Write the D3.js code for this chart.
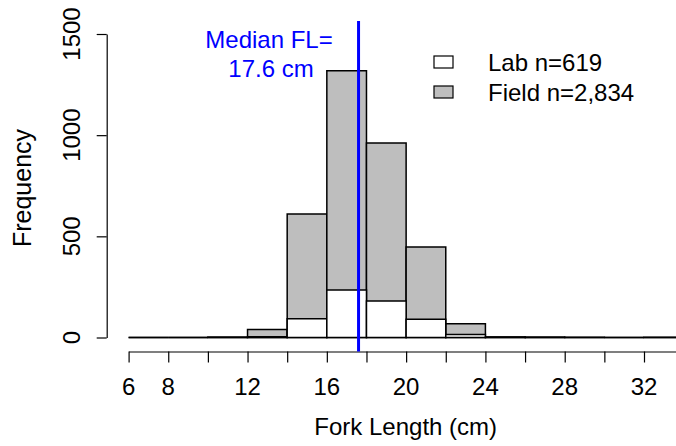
<!DOCTYPE html>
<html>
<head>
<meta charset="utf-8">
<script src="https://cdn.jsdelivr.net/npm/d3@7"></script>
<style>
  body { margin: 0; background: #fff; }
  svg { display: block; font-family: "Liberation Sans", Arial, Helvetica, sans-serif; }
</style>
</head>
<body>
<div id="chart"></div>
<script>
// bin lower edges (2 cm bins)
const binStarts = [6, 8, 10, 12, 14, 16, 18, 20, 22, 24, 26, 28, 30, 32, 34, 36];
const binWidth = 2;
// counts per bin
const labCounts = [0, 0, 0, 4, 93, 235, 180, 90, 15, 2, 0, 0, 0, 0, 0, 0];
const fieldCounts = [0, 0, 2, 35, 517, 1083, 781, 357, 53, 1, 3, 1, 0, 1, 0, 0];
const yTicks = [0, 500, 1000, 1500];
const xTicks = [6, 8, 10, 12, 14, 16, 18, 20, 22, 24, 26, 28, 30, 32, 34, 36, 38];
const xLabels = [6, 8, 12, 16, 20, 24, 28, 32];
const medianFL = 17.6;
const legendItems = [
  { label: "Lab n=619", fill: "#ffffff" },
  { label: "Field n=2,834", fill: "#bebebe" }
];

const width = 676, height = 446;
const fontSize = 24;

const svg = d3.select("#chart").append("svg")
  .attr("width", width)
  .attr("height", height);

const x = d3.scaleLinear().domain([6, 32]).range([128.6, 644]);
const y = d3.scaleLinear().domain([0, 1500]).range([337.5, 34]);

const bins = binStarts.map((b, i) => ({
  x0: b, x1: b + binWidth, lab: labCounts[i], total: labCounts[i] + fieldCounts[i]
}));

// rect as path so zero-height bins still show their outline
const barPath = (x0, x1, v) =>
  `M${x(x0)},${y(0)}H${x(x1)}V${y(v)}H${x(x0)}Z`;

const bars = svg.append("g");
bars.selectAll(".total")
  .data(bins)
  .join("path")
  .attr("class", "total")
  .attr("d", d => barPath(d.x0, d.x1, d.total))
  .attr("fill", "#bebebe")
  .attr("stroke", "#000")
  .attr("stroke-width", 1.5);

bars.selectAll(".lab")
  .data(bins)
  .join("path")
  .attr("class", "lab")
  .attr("d", d => barPath(d.x0, d.x1, d.lab))
  .attr("fill", "#ffffff")
  .attr("stroke", "#000")
  .attr("stroke-width", 1.5);

// y axis
const yAxis = svg.append("g")
  .attr("transform", "translate(106.7,0)")
  .call(d3.axisLeft(y).tickValues(yTicks).tickSize(10).tickSizeOuter(0).tickFormat(""));
yAxis.selectAll("path, line").attr("stroke", "#000").attr("stroke-width", 1.2);

svg.append("g").selectAll("text")
  .data(yTicks)
  .join("text")
  .attr("transform", d => `translate(80,${y(d)}) rotate(-90)`)
  .attr("text-anchor", "middle")
  .attr("font-size", fontSize)
  .text(d => d);

// x axis, runs past the right edge
const xAxisScale = x.copy().domain([6, 38]).range([x(6), x(38)]);
const xAxis = svg.append("g")
  .attr("transform", "translate(0,351.5)")
  .call(d3.axisBottom(xAxisScale).tickValues(xTicks).tickSize(11).tickSizeOuter(0).tickFormat(""));
xAxis.selectAll("path, line").attr("stroke", "#000").attr("stroke-width", 1.2);

svg.append("g").selectAll("text")
  .data(xLabels)
  .join("text")
  .attr("x", d => x(d))
  .attr("y", 395)
  .attr("text-anchor", "middle")
  .attr("font-size", fontSize)
  .text(d => d);

// axis titles
svg.append("text")
  .attr("x", 405.7)
  .attr("y", 435)
  .attr("text-anchor", "middle")
  .attr("font-size", fontSize)
  .text("Fork Length (cm)");

svg.append("text")
  .attr("transform", "translate(31,188) rotate(-90)")
  .attr("text-anchor", "middle")
  .attr("font-size", 25)
  .text("Frequency");

// median line + note
svg.append("line")
  .attr("x1", x(medianFL)).attr("x2", x(medianFL))
  .attr("y1", 21).attr("y2", 351.5)
  .attr("stroke", "#0000ff")
  .attr("stroke-width", 3);

svg.append("text")
  .attr("x", 269)
  .attr("y", 47.7)
  .attr("text-anchor", "middle")
  .attr("font-size", fontSize)
  .attr("fill", "#0000ff")
  .text("Median FL=");
svg.append("text")
  .attr("x", 271)
  .attr("y", 77.3)
  .attr("text-anchor", "middle")
  .attr("font-size", fontSize)
  .attr("fill", "#0000ff")
  .text(medianFL + " cm");

// legend
const legend = svg.append("g").attr("transform", "translate(434,56)");
const rows = legend.selectAll("g")
  .data(legendItems)
  .join("g")
  .attr("transform", (d, i) => `translate(0,${i * 30})`);
rows.append("rect")
  .attr("width", 19).attr("height", 12)
  .attr("fill", d => d.fill)
  .attr("stroke", "#000")
  .attr("stroke-width", 1.2);
rows.append("text")
  .attr("x", 54)
  .attr("y", 14.5)
  .attr("font-size", fontSize)
  .text(d => d.label);
</script>
</body>
</html>
